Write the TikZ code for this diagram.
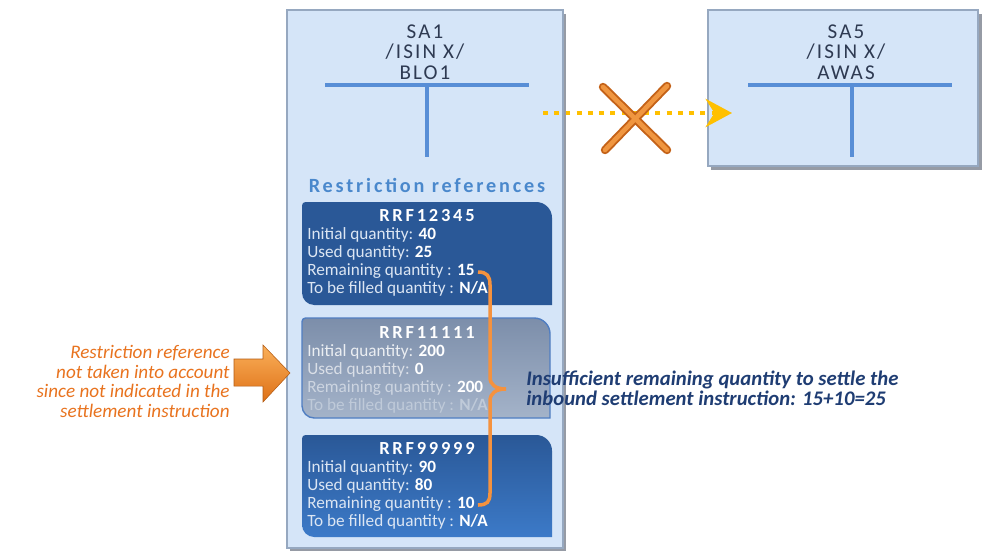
\documentclass[tikz,border=0pt]{standalone}
\usepackage{fontspec}
\setmainfont{Carlito}
\usetikzlibrary{arrows.meta}

\definecolor{boxfill}{RGB}{213,229,248}
\definecolor{boxedge}{RGB}{150,168,192}
\definecolor{shadowcol}{RGB}{150,155,165}
\definecolor{tblue}{RGB}{88,142,214}
\definecolor{satxt}{RGB}{46,58,82}
\definecolor{refblue}{RGB}{74,136,204}
\definecolor{rrfblue}{RGB}{42,88,151}
\definecolor{rrfbot}{RGB}{60,122,200}
\definecolor{midtop}{RGB}{124,142,170}
\definecolor{midbot}{RGB}{164,179,201}
\definecolor{midedge}{RGB}{80,126,194}
\definecolor{labcol}{RGB}{220,230,243}
\definecolor{dotyel}{RGB}{255,192,0}
\definecolor{xdark}{RGB}{196,98,24}
\definecolor{xlight}{RGB}{240,150,64}
\definecolor{braceor}{RGB}{245,146,62}
\definecolor{leftor}{RGB}{232,115,31}
\definecolor{arrtop}{RGB}{250,176,90}
\definecolor{arrbot}{RGB}{222,112,22}
\definecolor{notecol}{RGB}{31,61,115}

\begin{document}
\begin{tikzpicture}[x=0.02cm,y=-0.02cm,
  sabar/.style={line width=2.8pt,tblue},
  satitle/.style={inner sep=0,align=center,text=satxt,anchor=north,
    font=\fontsize{12}{11.8}\selectfont\addfontfeatures{LetterSpace=10}},
  rrftitle/.style={inner sep=0,anchor=base,text=white,
    font=\fontsize{10.5}{11}\selectfont\bfseries\addfontfeatures{LetterSpace=15}},
  rrflines/.style={inner sep=0,align=left,anchor=north west,text=labcol,
    font=\fontsize{9.8}{10.3}\selectfont}]
\useasboundingbox (0,0) rectangle (982,552);

% account boxes
\fill[shadowcol] (290,14) rectangle (566,551);
\fill[shadowcol] (711,14) rectangle (982,170);
\draw[boxedge,fill=boxfill,line width=0.8pt] (287,10) rectangle (563,548);
\draw[boxedge,fill=boxfill,line width=0.8pt] (708,10) rectangle (978,166);
\draw[sabar] (325,85) -- (529,85);
\draw[sabar] (427,85) -- (427,157);
\draw[sabar] (748,85) -- (952,85);
\draw[sabar] (852,85) -- (852,157);
\node[satitle] (sa1) at (425,24) {SA1\\/ISIN X/\\BLO1};
\node[satitle] (sa5) at (846,24) {SA5\\/ISIN X/\\AWAS};
\node[anchor=base,inner sep=0,text=refblue,
  font=\fontsize{11.5}{12}\selectfont\bfseries\addfontfeatures{LetterSpace=14}] (refs) at (427,192) {Restriction references};

% restriction references
\fill[rrfblue] (302,250) [rounded corners=2pt] -- (302,202) [rounded corners=9pt] -- (552,202) [sharp corners] -- (552,305) [rounded corners=7pt] -- (302,305) [sharp corners] -- cycle;
\node[rrftitle] (rrf1) at (427,221) {RRF12345};
\node[rrflines] (q1) at (307,227) {Initial quantity: \textcolor{white}{\bfseries 40}\\
  Used quantity: \textcolor{white}{\bfseries 25}\\
  Remaining quantity : \textcolor{white}{\bfseries 15}\\
  To be filled quantity : \textcolor{white}{\bfseries N/A}};

\shadedraw[top color=midtop,bottom color=midbot,draw=midedge,line width=0.8pt] (302,370) [rounded corners=2pt] -- (302,318) [rounded corners=9pt] -- (550,318) [sharp corners] -- (550,418) [rounded corners=7pt] -- (302,418) [sharp corners] -- cycle;
\node[rrftitle] (rrf2) at (427,338) {RRF11111};
\node[rrflines] (q2) at (307,344) {\textcolor{white!85!midtop}{Initial quantity:} \textcolor{white}{\bfseries 200}\\
  \textcolor{white!72!midtop}{Used quantity:} \textcolor{white}{\bfseries 0}\\
  \textcolor{white!45!midbot}{Remaining quantity :} \textcolor{white}{\bfseries 200}\\
  \textcolor{white!30!midbot}{To be filled quantity : \bfseries N/A}};

\shade[top color=rrfblue,middle color=rrfblue,bottom color=rrfbot] (302,490) [rounded corners=2pt] -- (302,435) [rounded corners=9pt] -- (552,435) [sharp corners] -- (552,537) [rounded corners=7pt] -- (302,537) [sharp corners] -- cycle;
\node[rrftitle] (rrf3) at (427,454) {RRF99999};
\node[rrflines] (q3) at (307,460) {Initial quantity: \textcolor{white}{\bfseries 90}\\
  Used quantity: \textcolor{white}{\bfseries 80}\\
  Remaining quantity : \textcolor{white}{\bfseries 10}\\
  To be filled quantity : \textcolor{white}{\bfseries N/A}};

% blocked transfer
\coordinate (dots) at (543,113);
\coordinate (dote) at (732,113);
\draw[dotyel,line width=2.8pt,dash pattern=on 2.8pt off 3.6pt,
  -{Stealth[length=15pt,width=16pt,inset=5pt]}] (dots) -- (dote);
\draw[xdark,line width=4.8pt,line cap=round] (603,87) -- (667,150) (667,86) -- (605,150);
\draw[xlight,line width=2.6pt,line cap=round] (603,87) -- (667,150) (667,86) -- (605,150);

% not counted
\node[anchor=north east,inner sep=0,align=right,text=leftor,
  font=\fontsize{10.9}{11.2}\selectfont\itshape] (why) at (230,345) {Restriction reference\\not taken into account\\since not indicated in the\\settlement instruction};
\shade[top color=arrtop,bottom color=arrbot,draw=arrbot!80!black,line width=0.3pt]
  (234,359) -- (263,359) -- (263,345) -- (290,373) -- (263,402) -- (263,386) -- (234,386) -- cycle;

% sum of remaining quantities
\coordinate (b1) at (478,272);
\coordinate (b2) at (478,505);
\draw[braceor,line width=2pt] (b1) .. controls (487,272) and (490,276) .. (490,285) -- (490,377)
  .. controls (490,385) and (496,389) .. (506,389) .. controls (496,389) and (490,393) .. (490,401)
  -- (490,493) .. controls (490,502) and (487,505) .. (b2);
\node[anchor=north west,inner sep=0,align=left,text=notecol,
  font=\fontsize{11.8}{11}\selectfont\bfseries\itshape] (note) at (526,371) {Insufficient remaining quantity to settle the\\inbound settlement instruction: 15+10=25};
\end{tikzpicture}
\end{document}
